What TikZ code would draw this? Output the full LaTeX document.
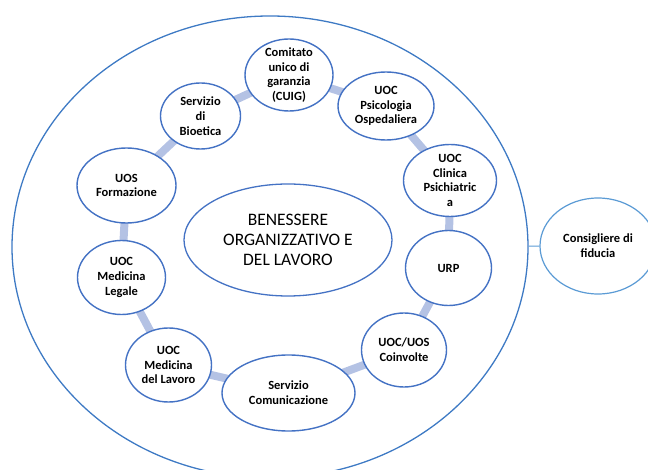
\documentclass[tikz,border=0pt]{standalone}
\usepackage{fontspec}
\setmainfont{Carlito}
\usetikzlibrary{shapes.geometric,backgrounds}
\definecolor{nodeblue}{RGB}{68,114,196}
\definecolor{outerblue}{RGB}{62,122,196}
\definecolor{lightblue}{RGB}{91,155,213}
\definecolor{linkcol}{RGB}{180,194,228}
\begin{document}
\begin{tikzpicture}[x=1pt,y=-1pt,
  bubble/.style={ellipse,draw=nodeblue,line width=1.4pt,fill=white,inner sep=0pt},
  lbl/.style={font=\fontsize{12.5}{14.7}\selectfont\bfseries,align=center,inner sep=0pt,text=black},
  link/.style={draw=linkcol,line width=8pt}]
\useasboundingbox (0,0) rectangle (648,470);
% outer ellipse and external advisor
\node[ellipse,draw=outerblue,line width=1.3pt,minimum width=516pt,minimum height=462pt,inner sep=0pt] (outer) at (270,247) {};
\node[ellipse,draw=lightblue,line width=1.2pt,fill=white,minimum width=116pt,minimum height=96pt,inner sep=0pt] (consig) at (598,246) {};
\node[lbl] (consigT) at (consig) {Consigliere di\\fiducia};
\draw[lightblue,line width=1pt] (outer) -- (consig);
% centre
\node[ellipse,draw=nodeblue,line width=1.3pt,fill=white,minimum width=208pt,minimum height=112pt,inner sep=0pt] (centre) at (288,240) {};
\node[font=\fontsize{17.5}{20}\selectfont,align=center,inner sep=0pt] (centreT) at (centre) {BENESSERE\\ORGANIZZATIVO E\\DEL LAVORO};
% ring nodes
\node[bubble,minimum width=88pt,minimum height=72pt] (cug) at (289,75) {};
\node[bubble,minimum width=96pt,minimum height=68pt] (psi) at (386,106) {};
\node[bubble,minimum width=93pt,minimum height=72pt] (cli) at (450,180.5) {};
\node[bubble,minimum width=86pt,minimum height=75pt] (urp) at (448.5,268) {};
\node[bubble,minimum width=85pt,minimum height=74pt] (coin) at (404,350) {};
\node[bubble,minimum width=133pt,minimum height=76pt] (com) at (288.5,393) {};
\node[bubble,minimum width=86pt,minimum height=74pt] (mlav) at (168.5,365) {};
\node[bubble,minimum width=88pt,minimum height=74pt] (mleg) at (121.5,277.5) {};
\node[bubble,minimum width=99pt,minimum height=75pt] (form) at (126.5,185.5) {};
\node[bubble,minimum width=80pt,minimum height=66pt] (bio) at (200.5,116) {};
% labels
\node[lbl] (cugT) at (cug) {Comitato\\unico di\\garanzia\\(CUIG)};
\node[lbl] (psiT) at (psi) {UOC\\Psicologia\\Ospedaliera};
\node[lbl] (cliT) at (cli) {UOC\\Clinica\\Psichiatric\\a};
\node[lbl] (urpT) at (urp) {URP};
\node[lbl] (coinT) at (coin) {UOC/UOS\\Coinvolte};
\node[lbl] (comT) at (com) {Servizio\\Comunicazione};
\node[lbl] (mlavT) at (mlav) {UOC\\Medicina\\del Lavoro};
\node[lbl] (mlegT) at (mleg) {UOC\\Medicina\\Legale};
\node[lbl] (formT) at (form) {UOS\\Formazione};
\node[lbl] (bioT) at (bio) {Servizio\\di\\Bioetica};
% ring connectors
\begin{pgfonlayer}{background}
\draw[link] (bio.center) -- (cug.center);
\draw[link] (cug.center) -- (psi.center);
\draw[link] (psi.center) -- (cli.center);
\draw[link] (cli.center) -- (urp.center);
\draw[link] (urp.center) -- (coin.center);
\draw[link] (coin.center) -- (com.center);
\draw[link] (com.center) -- (mlav.center);
\draw[link] (mlav.center) -- (mleg.center);
\draw[link] (mleg.center) -- (form.center);
\draw[link] (form.center) -- (bio.center);
\end{pgfonlayer}
\end{tikzpicture}
\end{document}
